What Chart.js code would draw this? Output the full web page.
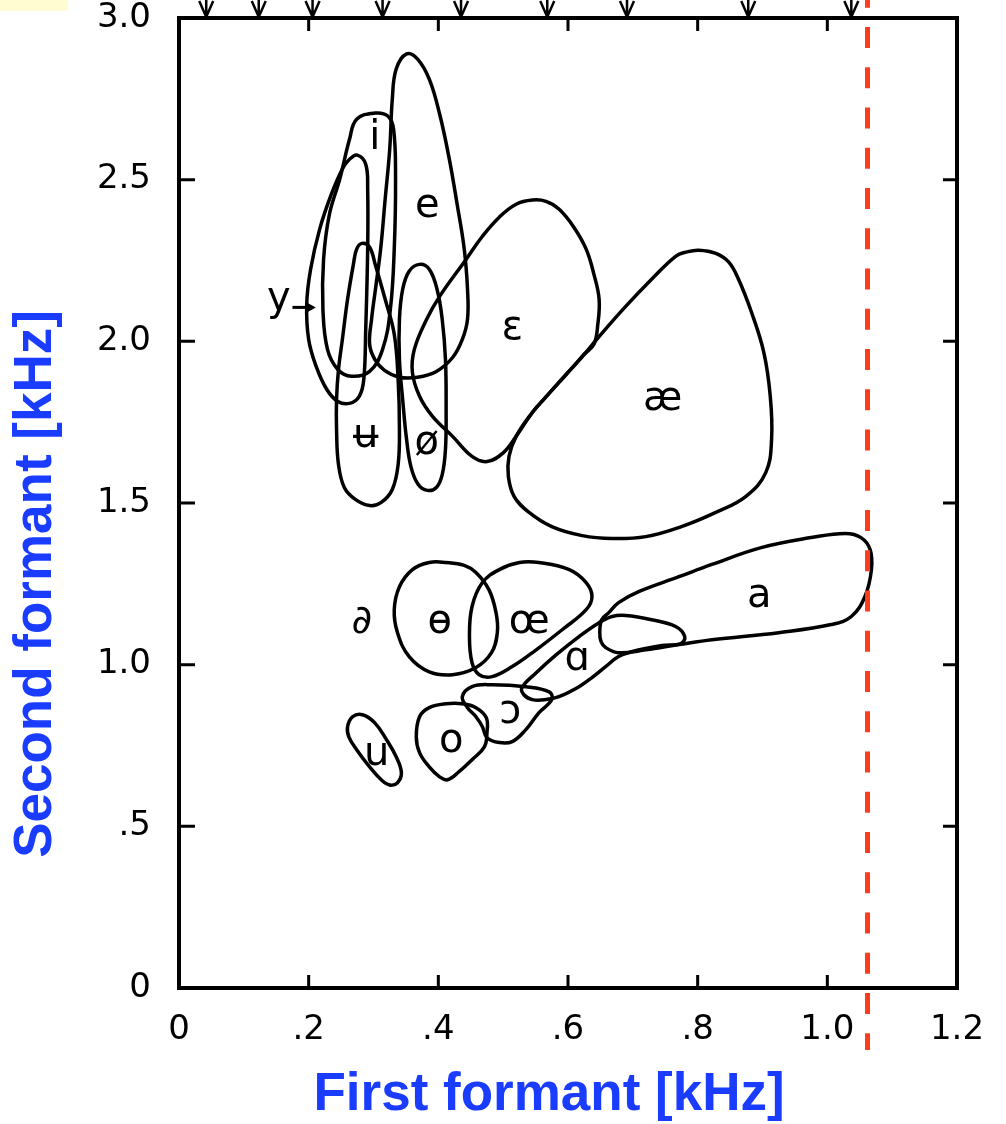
<!DOCTYPE html>
<html>
<head>
<meta charset="utf-8">
<title>Vowel formant areas</title>
<script src="https://cdn.jsdelivr.net/npm/chart.js@4.4.1/dist/chart.umd.min.js"></script>
<style>
  html, body { margin: 0; padding: 0; background: #fff; }
  #wrap { width: 1006px; height: 1124px; position: relative; }
</style>
</head>
<body>
<div id="wrap"><canvas id="chart"></canvas></div>
<script>
// tick labels as printed on the original figure
const xTickLabels = ['0', '.2', '.4', '.6', '.8', '1.0', '1.2'];
const yTickLabels = ['0', '.5', '1.0', '1.5', '2.0', '2.5', '3.0'];

// outline of each vowel area: first formant (kHz) / second formant (kHz)
const iF1 = [0.302, 0.322, 0.331, 0.334, 0.332, 0.326, 0.314, 0.294, 0.266, 0.245, 0.229, 0.222, 0.223, 0.232, 0.248, 0.263, 0.274];
const iF2 = [2.706, 2.697, 2.656, 2.502, 2.285, 2.099, 1.975, 1.907, 1.892, 1.913, 1.975, 2.099, 2.254, 2.393, 2.502, 2.625, 2.687];

const yF1 = [0.275, 0.288, 0.291, 0.291, 0.288, 0.285, 0.278, 0.263, 0.245, 0.228, 0.212, 0.200, 0.197, 0.203, 0.217, 0.235, 0.252, 0.263];
const yF2 = [2.576, 2.548, 2.471, 2.285, 2.037, 1.882, 1.830, 1.808, 1.814, 1.851, 1.920, 2.006, 2.115, 2.223, 2.347, 2.455, 2.533, 2.563];

const eF1 = [0.351, 0.368, 0.386, 0.402, 0.417, 0.429, 0.440, 0.445, 0.445, 0.437, 0.422, 0.397, 0.368, 0.340, 0.317, 0.302, 0.294, 0.297, 0.303, 0.311, 0.318, 0.325, 0.329, 0.335];
const eF2 = [2.889, 2.873, 2.811, 2.703, 2.563, 2.424, 2.285, 2.161, 2.068, 2.006, 1.950, 1.907, 1.889, 1.889, 1.910, 1.944, 1.991, 2.068, 2.161, 2.285, 2.440, 2.594, 2.749, 2.842];

const uBarF1 = [0.282, 0.294, 0.303, 0.318, 0.332, 0.338, 0.340, 0.338, 0.329, 0.312, 0.294, 0.272, 0.255, 0.246, 0.243, 0.243, 0.246, 0.252, 0.260, 0.269, 0.274];
const uBarF2 = [2.303, 2.291, 2.235, 2.130, 2.022, 1.882, 1.728, 1.619, 1.542, 1.502, 1.492, 1.511, 1.548, 1.619, 1.728, 1.820, 1.913, 2.006, 2.130, 2.238, 2.285];

const oSlashF1 = [0.371, 0.386, 0.398, 0.406, 0.411, 0.412, 0.411, 0.406, 0.397, 0.383, 0.369, 0.358, 0.351, 0.345, 0.340, 0.340, 0.345, 0.355];
const oSlashF2 = [2.238, 2.223, 2.161, 2.068, 1.944, 1.789, 1.666, 1.588, 1.548, 1.539, 1.557, 1.610, 1.697, 1.820, 1.944, 2.068, 2.161, 2.217];

const epsF1 = [0.545, 0.566, 0.586, 0.609, 0.628, 0.640, 0.648, 0.646, 0.640, 0.625, 0.606, 0.586, 0.565, 0.545, 0.520, 0.500, 0.475, 0.452, 0.422, 0.391, 0.371, 0.360, 0.363, 0.382, 0.402, 0.443, 0.468, 0.494, 0.520];
const epsF2 = [2.437, 2.433, 2.409, 2.353, 2.285, 2.207, 2.130, 2.053, 1.991, 1.960, 1.917, 1.873, 1.826, 1.780, 1.706, 1.655, 1.628, 1.644, 1.706, 1.768, 1.830, 1.904, 1.975, 2.068, 2.139, 2.254, 2.325, 2.384, 2.424];

const aeF1 = [0.802, 0.828, 0.848, 0.863, 0.883, 0.902, 0.912, 0.914, 0.905, 0.874, 0.828, 0.775, 0.720, 0.668, 0.622, 0.575, 0.540, 0.517, 0.508, 0.509, 0.520, 0.545, 0.565, 0.586, 0.606, 0.625, 0.648, 0.689, 0.729, 0.766, 0.782];
const aeF2 = [2.282, 2.272, 2.245, 2.192, 2.090, 1.966, 1.830, 1.697, 1.594, 1.520, 1.471, 1.427, 1.396, 1.390, 1.399, 1.427, 1.471, 1.520, 1.582, 1.644, 1.706, 1.780, 1.826, 1.873, 1.917, 1.960, 2.015, 2.108, 2.192, 2.263, 2.276];

const oBarF1 = [0.412, 0.440, 0.458, 0.478, 0.489, 0.491, 0.482, 0.458, 0.422, 0.386, 0.355, 0.337, 0.332, 0.340, 0.360, 0.386];
const oBarF2 = [1.316, 1.307, 1.285, 1.232, 1.161, 1.099, 1.037, 0.991, 0.969, 0.978, 1.025, 1.099, 1.170, 1.241, 1.294, 1.316];

const oeF1 = [0.555, 0.602, 0.628, 0.637, 0.628, 0.591, 0.551, 0.514, 0.483, 0.463, 0.452, 0.448, 0.452, 0.468, 0.494, 0.525];
const oeF2 = [1.316, 1.294, 1.254, 1.211, 1.170, 1.108, 1.046, 0.994, 0.963, 0.969, 1.006, 1.087, 1.180, 1.254, 1.294, 1.316];

const aF1 = [0.649, 0.652, 0.663, 0.678, 0.709, 0.771, 0.822, 0.898, 0.975, 1.028, 1.052, 1.066, 1.068, 1.058, 1.037, 1.006, 0.925, 0.822, 0.771, 0.720, 0.678, 0.658, 0.651];
const aF2 = [1.099, 1.139, 1.161, 1.192, 1.226, 1.272, 1.310, 1.362, 1.393, 1.406, 1.393, 1.356, 1.294, 1.211, 1.149, 1.124, 1.099, 1.077, 1.062, 1.046, 1.037, 1.053, 1.071];

const alphaF1 = [0.529, 0.551, 0.582, 0.617, 0.648, 0.668, 0.689, 0.729, 0.766, 0.780, 0.774, 0.745, 0.698, 0.678, 0.658, 0.637, 0.617, 0.586, 0.566, 0.545, 0.532];
const alphaF2 = [0.929, 0.975, 1.031, 1.087, 1.130, 1.149, 1.152, 1.139, 1.118, 1.087, 1.065, 1.059, 1.040, 1.025, 0.994, 0.960, 0.932, 0.901, 0.892, 0.892, 0.907];

const openOF1 = [0.437, 0.452, 0.483, 0.535, 0.571, 0.575, 0.555, 0.535, 0.514, 0.494, 0.475, 0.468, 0.458, 0.445];
const openOF2 = [0.901, 0.932, 0.938, 0.932, 0.916, 0.892, 0.851, 0.799, 0.762, 0.759, 0.774, 0.808, 0.839, 0.867];

const oF1 = [0.412, 0.437, 0.458, 0.474, 0.475, 0.471, 0.452, 0.432, 0.414, 0.402, 0.386, 0.371, 0.366, 0.371, 0.386];
const oF2 = [0.879, 0.879, 0.867, 0.836, 0.789, 0.746, 0.706, 0.669, 0.644, 0.653, 0.684, 0.728, 0.777, 0.839, 0.867];

const uF1 = [0.268, 0.283, 0.302, 0.320, 0.335, 0.343, 0.337, 0.325, 0.312, 0.294, 0.274, 0.262, 0.260];
const uF2 = [0.839, 0.845, 0.820, 0.768, 0.715, 0.666, 0.635, 0.628, 0.644, 0.684, 0.737, 0.777, 0.808];

// vowel symbols written inside / beside the areas
const labelText = ['i', 'e', 'y', 'ε', 'æ', 'ʉ', 'ø', '∂', 'ɵ', 'œ', 'a', 'ɑ', 'ɔ', 'o', 'u'];
const labelF1 = [0.302, 0.383, 0.154, 0.514, 0.746, 0.288, 0.382, 0.282, 0.402, 0.540, 0.895, 0.614, 0.511, 0.420, 0.305];
const labelF2 = [2.628, 2.418, 2.130, 2.040, 1.820, 1.706, 1.684, 1.130, 1.130, 1.130, 1.210, 1.015, 0.851, 0.762, 0.721];

// the little "y ->" pointer
const pointerF1 = [0.175, 0.211];
const pointerF2 = [2.105, 2.105];

// markers along the top edge and the dashed red line (kHz)
const arrowF1 = [0.042, 0.123, 0.206, 0.314, 0.435, 0.568, 0.691, 0.878, 1.037];
const cutoffF1 = 1.062;

const regions = [
    ['i', iF1, iF2], ['y', yF1, yF2], ['e', eF1, eF2], ['ʉ', uBarF1, uBarF2],
    ['ø', oSlashF1, oSlashF2], ['ε', epsF1, epsF2], ['æ', aeF1, aeF2],
    ['ɵ', oBarF1, oBarF2], ['œ', oeF1, oeF2], ['a', aF1, aF2], ['ɑ', alphaF1, alphaF2],
    ['ɔ', openOF1, openOF2], ['o', oF1, oF2], ['u', uF1, uF2],
];

// outlines are closed curves: let the line element wrap around like a radar line
const closeOutlines = {
    id: 'closeOutlines',
    afterDatasetsUpdate(chart) {
        chart.data.datasets.forEach((ds, i) => {
            const line = chart.getDatasetMeta(i).dataset;
            if (!line) return;
            line._loop = true;
            line._fullLoop = true;
            line._pointsUpdated = false;
            delete line._segments;
            delete line._path;
            line.updateControlPoints(chart.chartArea, 'x');
        });
    },
};

const decorations = {
    id: 'decorations',
    beforeDraw(chart) {
        const ctx = chart.ctx;
        ctx.save();
        ctx.fillStyle = '#fffcd2';
        ctx.fillRect(0, 0, 68, 11);
        ctx.restore();
    },
    afterDatasetsDraw(chart) {
        const { ctx, chartArea: area, scales: { x, y } } = chart;
        ctx.save();

        // frame with inward ticks on all four sides
        ctx.strokeStyle = '#000';
        ctx.lineWidth = 4;
        ctx.strokeRect(area.left, area.top, area.right - area.left, area.bottom - area.top);
        ctx.lineWidth = 3;
        ctx.beginPath();
        x.ticks.forEach((t) => {
            if (t.value <= x.min + 1e-6 || t.value >= x.max - 1e-6) return;
            const px = x.getPixelForValue(t.value);
            ctx.moveTo(px, area.bottom);
            ctx.lineTo(px, area.bottom - 13);
            ctx.moveTo(px, area.top);
            ctx.lineTo(px, area.top + 13);
        });
        y.ticks.forEach((t) => {
            if (t.value <= y.min + 1e-6 || t.value >= y.max - 1e-6) return;
            const py = y.getPixelForValue(t.value);
            ctx.moveTo(area.left, py);
            ctx.lineTo(area.left + 16, py);
            ctx.moveTo(area.right, py);
            ctx.lineTo(area.right - 14, py);
        });
        ctx.stroke();

        // downward arrows above the frame
        ctx.lineWidth = 2.5;
        arrowF1.forEach((v) => {
            const px = x.getPixelForValue(v);
            ctx.beginPath();
            ctx.moveTo(px, 0);
            ctx.lineTo(px, area.top);
            ctx.moveTo(px - 7, 1);
            ctx.lineTo(px, area.top - 1);
            ctx.lineTo(px + 7, 1);
            ctx.stroke();
        });

        // vowel symbols
        ctx.fillStyle = '#000';
        ctx.font = '40px "DejaVu Sans"';
        ctx.textAlign = 'center';
        ctx.textBaseline = 'middle';
        labelText.forEach((txt, i) => {
            ctx.fillText(txt, x.getPixelForValue(labelF1[i]), y.getPixelForValue(labelF2[i]));
        });

        // y pointer
        const ax0 = x.getPixelForValue(pointerF1[0]);
        const ax1 = x.getPixelForValue(pointerF1[1]);
        const ay = y.getPixelForValue(pointerF2[0]);
        ctx.lineWidth = 3;
        ctx.beginPath();
        ctx.moveTo(ax0, ay);
        ctx.lineTo(ax1 - 6, ay);
        ctx.stroke();
        ctx.beginPath();
        ctx.moveTo(ax1, ay);
        ctx.lineTo(ax1 - 9, ay - 5);
        ctx.lineTo(ax1 - 9, ay + 5);
        ctx.closePath();
        ctx.fill();

        // dashed red line
        const rx = x.getPixelForValue(cutoffF1);
        ctx.strokeStyle = '#ff3b1d';
        ctx.lineWidth = 5;
        ctx.setLineDash([21, 19.25]);
        ctx.beginPath();
        ctx.moveTo(rx, -13.25);
        ctx.lineTo(rx, 1050);
        ctx.stroke();
        ctx.setLineDash([]);

        // axis titles
        ctx.fillStyle = '#1a3cff';
        ctx.font = 'bold 53px "Liberation Sans", Arial, sans-serif';
        ctx.fillText('First formant [kHz]', 549, 1095);
        ctx.translate(36, 584);
        ctx.rotate(-Math.PI / 2);
        ctx.fillText('Second formant [kHz]', 0, 0);

        ctx.restore();
    },
};

new Chart(document.getElementById('chart'), {
    type: 'line',
    data: {
        datasets: regions.map(([name, f1, f2]) => ({
            label: name,
            data: f1.map((v, k) => ({ x: v, y: f2[k] })),
            borderColor: '#000',
            borderWidth: 3.5,
            pointRadius: 0,
            tension: 0.4,
            fill: false,
        })),
    },
    options: {
        responsive: true,
        maintainAspectRatio: false,
        animation: false,
        layout: { padding: { top: 18, right: 49, left: 0, bottom: 0 } },
        plugins: {
            legend: { display: false },
            tooltip: { enabled: false },
        },
        scales: {
            x: {
                type: 'linear',
                min: 0,
                max: 1.2,
                grid: { display: false, drawTicks: false },
                border: { display: false },
                ticks: {
                    stepSize: 0.2,
                    autoSkip: false,
                    maxRotation: 0,
                    padding: 22,
                    color: '#000',
                    font: { family: 'DejaVu Sans', size: 34 },
                    callback: (value) => xTickLabels[Math.round(value / 0.2)],
                },
                afterFit(scale) {
                    scale.height = 136;
                    scale.paddingLeft = 0;
                    scale.paddingRight = 0;
                },
            },
            y: {
                type: 'linear',
                min: 0,
                max: 3,
                grid: { display: false, drawTicks: false },
                border: { display: false },
                ticks: {
                    stepSize: 0.5,
                    autoSkip: false,
                    padding: 28,
                    color: '#000',
                    font: { family: 'DejaVu Sans', size: 34 },
                    callback: (value) => yTickLabels[Math.round(value / 0.5)],
                },
                afterFit(scale) {
                    scale.width = 179;
                    scale.paddingTop = 0;
                    scale.paddingBottom = 0;
                },
            },
        },
    },
    plugins: [closeOutlines, decorations],
});
</script>
</body>
</html>
